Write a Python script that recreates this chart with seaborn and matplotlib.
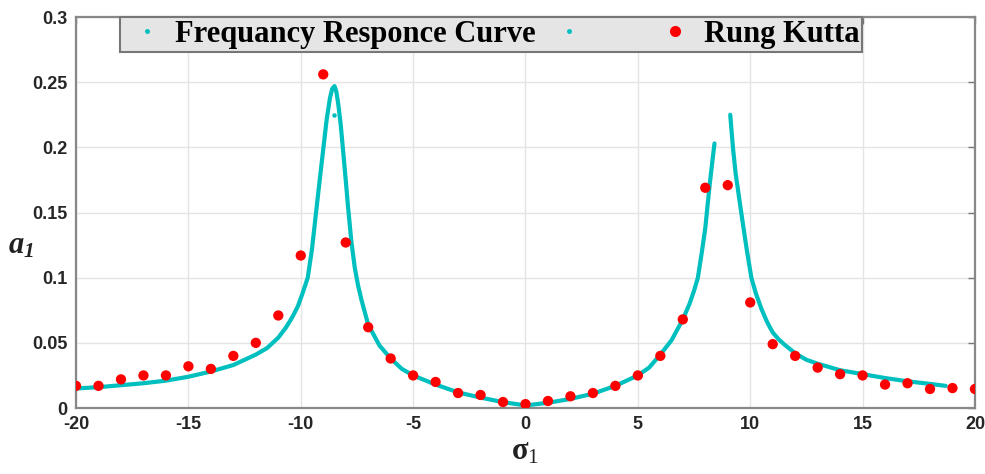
import numpy as np
import pandas as pd
import matplotlib.pyplot as plt
from matplotlib.lines import Line2D
import seaborn as sns

# Frequency response curve, left branch
curve_left_x = [-20, -19, -18, -17, -16, -15, -14, -13, -12, -11.5, -11.25, -11, -10.65, -10.4,
                -10.13, -9.9, -9.69, -9.5, -9.32, -9.15, -8.99, -8.85, -8.7, -8.6, -8.5, -8.42,
                -8.33, -8.22, -8.13, -8.0, -7.9, -7.75, -7.6, -7.45, -7.3, -7.0, -6.5, -6,
                -5.5, -5, -4, -3, -2, -1, 0, 1, 2, 3, 4, 5, 5.5, 6, 6.5, 7, 7.3, 7.5, 7.67,
                7.85, 8.0, 8.07, 8.2, 8.3, 8.41]
curve_left_y = [0.015, 0.016, 0.0175, 0.019, 0.021, 0.024, 0.028, 0.033, 0.041, 0.046, 0.050,
                0.054, 0.062, 0.069, 0.078, 0.089, 0.100, 0.122, 0.150, 0.176, 0.200, 0.221,
                0.238, 0.245, 0.247, 0.243, 0.233, 0.217, 0.200, 0.175, 0.155, 0.128, 0.108,
                0.094, 0.083, 0.064, 0.048, 0.038, 0.030, 0.025, 0.018, 0.012, 0.008, 0.0045,
                0.002, 0.004, 0.007, 0.011, 0.017, 0.025, 0.031, 0.041, 0.052, 0.068, 0.080,
                0.090, 0.100, 0.120, 0.138, 0.150, 0.172, 0.187, 0.203]

# Frequency response curve, right branch
curve_right_x = [9.11, 9.23, 9.35, 9.5, 9.6, 9.85, 10.05, 10.25, 10.5, 10.75, 11, 11.25, 11.5,
                 12, 12.5, 13, 14, 15, 16, 17, 18, 18.7]
curve_right_y = [0.225, 0.200, 0.180, 0.162, 0.150, 0.121, 0.100, 0.088, 0.076, 0.066, 0.058,
                 0.053, 0.049, 0.042, 0.037, 0.034, 0.029, 0.026, 0.023, 0.0205, 0.0185, 0.017]

# stray point of the curve series
stray_x = [-8.54]
stray_y = [0.225]

# Runge Kutta points
rk_sigma = list(range(-20, 21))
rk_a = [0.017, 0.017, 0.022, 0.025, 0.025, 0.032, 0.030, 0.040, 0.050, 0.071, 0.117,
        0.256, 0.127, 0.062, 0.038, 0.025, 0.020, 0.0115, 0.010, 0.0046, 0.003,
        0.0054, 0.009, 0.0115, 0.017, 0.025, 0.040, 0.068, 0.169, 0.171, 0.081,
        0.049, 0.040, 0.031, 0.026, 0.025, 0.018, 0.019, 0.0146, 0.0153, 0.0146]

legend_labels = ['Frequancy Responce Curve', ' ' * 6, 'Rung Kutta']

cyan = '#00bfbf'

sns.set_theme(style='whitegrid')
plt.rcParams['font.family'] = ['Liberation Sans', 'DejaVu Sans']
plt.rcParams['axes.unicode_minus'] = False
plt.rcParams['mathtext.fontset'] = 'custom'
plt.rcParams['mathtext.rm'] = 'Liberation Serif'
plt.rcParams['mathtext.it'] = 'Liberation Serif:italic'
plt.rcParams['mathtext.bf'] = 'Liberation Serif:bold'
plt.rcParams['mathtext.bfit'] = 'Liberation Serif:bold:italic'

fig = plt.figure(figsize=(9.85, 4.74), dpi=100)
ax = fig.add_axes([0.0772, 0.1392, 0.9126, 0.8249])

left = pd.DataFrame({'sigma': curve_left_x, 'a': curve_left_y})
right = pd.DataFrame({'sigma': curve_right_x, 'a': curve_right_y})
rk = pd.DataFrame({'sigma': rk_sigma, 'a': rk_a})

sns.lineplot(data=left, x='sigma', y='a', color=cyan, lw=3, sort=False, ax=ax, zorder=3)
sns.lineplot(data=right, x='sigma', y='a', color=cyan, lw=3, sort=False, ax=ax, zorder=3)
ax.scatter(stray_x, stray_y, s=5, color=cyan, zorder=3)
sns.scatterplot(data=rk, x='sigma', y='a', color='red', s=55, edgecolor='none', ax=ax, zorder=4)

ax.set_xlim(-20, 20)
ax.set_ylim(0, 0.3)
ax.set_xticks(np.arange(-20, 21, 5))
ax.set_yticks([0, 0.05, 0.1, 0.15, 0.2, 0.25, 0.3])
ax.set_yticklabels(['0', '0.05', '0.1', '0.15', '0.2', '0.25', '0.3'])
for lab in ax.get_xticklabels() + ax.get_yticklabels():
    lab.set_fontweight('bold')
    lab.set_fontsize(13)
ax.tick_params(direction='in', top=True, right=True, length=5, width=1,
               color='#777777', labelcolor='#262626', pad=6)
ax.grid(True, color='#e4e4e4', lw=1)
for sp in ax.spines.values():
    sp.set_color('#888888')
    sp.set_linewidth(1.6)

ax.set_xlabel(r'$\mathbf{\sigma}_{\mathrm{1}}$', fontsize=22, labelpad=2, color='#222222')
ax.set_ylabel(r'$\mathbfit{a}_{\mathbfit{1}}$', fontsize=22, rotation=0, ha='center', va='center',
              color='#222222')
ax.yaxis.set_label_coords(-0.061, 0.415)

handles = [Line2D([], [], ls='none', marker='.', color=cyan, markersize=5),
           Line2D([], [], ls='none', marker='.', color=cyan, markersize=5),
           Line2D([], [], ls='none', marker='o', color='red', markersize=8, markeredgewidth=0)]
leg = ax.legend(handles, legend_labels, ncol=3, loc='upper left', bbox_to_anchor=(0.049, 1.0),
                borderaxespad=0, borderpad=0.1, handlelength=1.55, handletextpad=0.15,
                columnspacing=0.3, fancybox=False, framealpha=1, facecolor='#e5e5e5',
                edgecolor='#777777', labelcolor='black',
                prop={'family': 'Liberation Serif', 'weight': 'bold', 'size': 22})
leg.get_frame().set_linewidth(1.5)

fig.savefig('out.png', dpi=100)
